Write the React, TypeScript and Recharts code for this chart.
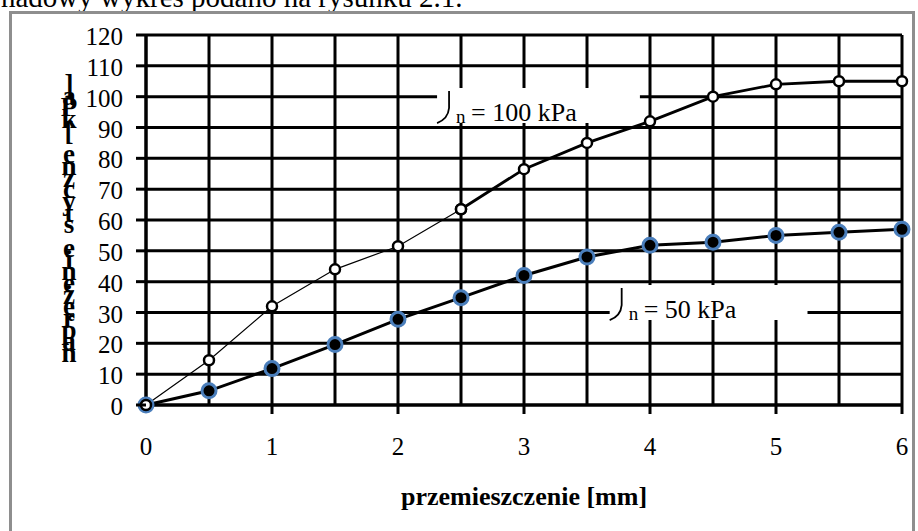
import React from 'react';
import { LineChart, Line, XAxis, YAxis, CartesianGrid, ReferenceArea } from 'recharts';

// ---- data ----
const displacement = [0, 0.5, 1, 1.5, 2, 2.5, 3, 3.5, 4, 4.5, 5, 5.5, 6];
const shear100 = [0, 14.5, 32, 44, 51.5, 63.5, 76.5, 85, 92, 100, 104, 105, 105];
const shear50 = [0, 4.6, 11.8, 19.6, 27.8, 34.8, 42, 48, 51.8, 52.8, 55, 56, 57];
const xTicks = [0, 0.5, 1, 1.5, 2, 2.5, 3, 3.5, 4, 4.5, 5, 5.5, 6];
const yTicks = [0, 10, 20, 30, 40, 50, 60, 70, 80, 90, 100, 110, 120];
const label100 = '= 100 kPa';
const label50 = '= 50 kPa';
const labelSub = 'n';
const xTitle = 'przemieszczenie [mm]';
const yTitle = 'naprężenie styczne [kPa]';
const caption = 'nadowy wykres podano na rysunku 2.1.';

const THICK_FROM = 5; // index where the 100 kPa line becomes thick

const data = displacement.map((x, i) => ({
  x,
  s50: shear50[i],
  s100a: i <= THICK_FROM ? shear100[i] : null,
  s100b: i >= THICK_FROM ? shear100[i] : null,
}));

const FONT = "'Liberation Serif', 'Times New Roman', Times, serif";

const XTick = (props: any) => {
  const { x, y, payload } = props;
  const v = payload.value;
  if (!Number.isInteger(v)) return <g />;
  return (
    <g>
      {v !== 0 && <line x1={x} x2={x} y1={y} y2={y + 9} stroke="#000" strokeWidth={3} />}
      <text x={x} y={y + 50} textAnchor="middle" fontSize={25} fontFamily={FONT} fill="#000">
        {v}
      </text>
    </g>
  );
};

const YTick = (props: any) => {
  const { x, y, payload } = props;
  return (
    <g>
      <line x1={x - 10} x2={x} y1={y} y2={y} stroke="#000" strokeWidth={3} />
      <text x={x - 23} y={y + 10} textAnchor="end" fontSize={25} fontFamily={FONT} fill="#000">
        {payload.value}
      </text>
    </g>
  );
};

const YTitle = () => {
  const chars = yTitle.split('').reverse();
  return (
    <g>
      {chars.map((c, i) => (
        <text
          key={i}
          x={69}
          y={93 + i * 11.7}
          textAnchor="middle"
          fontSize={27}
          fontWeight="bold"
          fontFamily={FONT}
          fill="#000"
        >
          {c}
        </text>
      ))}
    </g>
  );
};

const XTitle = () => (
  <text x={524} y={505} textAnchor="middle" fontSize={26} fontWeight="bold" fontFamily={FONT} fill="#000">
    {xTitle}
  </text>
);

const BoxLabel = (props: any) => {
  const { viewBox, text } = props;
  if (!viewBox) return null;
  const { x, y } = viewBox;
  return (
    <g>
      <path
        d={`M ${x + 12} ${y + 3} L ${x + 12} ${y + 20} Q ${x + 11} ${y + 31} ${x} ${y + 35}`}
        fill="none"
        stroke="#000"
        strokeWidth={1.8}
      />
      <text x={x + 19} y={y + 35} fontSize={19} fontFamily={FONT} fill="#000">
        {labelSub}
      </text>
      <text x={x + 34} y={y + 33} fontSize={26} fontFamily={FONT} fill="#000">
        {text}
      </text>
    </g>
  );
};

export default function App() {
  return (
    <div style={{ position: 'absolute', left: 0, top: 0, width: 918, height: 531, overflow: 'hidden', background: '#fff' }}>
      <svg width={918} height={20} style={{ position: 'absolute', left: 0, top: 0 }}>
        <text x={1} y={7} fontSize={29} fontFamily={FONT} fill="#000">
          {caption}
        </text>
      </svg>
      <div
        style={{
          position: 'absolute',
          left: 9,
          top: 11,
          width: 900,
          height: 600,
          border: '3px solid #8e8e8e',
        }}
      />
      <div style={{ position: 'absolute', left: 0, top: 0 }}>
        <LineChart width={918} height={531} data={data} margin={{ top: 35, right: 16, bottom: 86, left: 86 }}>
          <CartesianGrid stroke="#000" strokeWidth={3} />
          <XAxis
            dataKey="x"
            type="number"
            domain={[0, 6]}
            ticks={xTicks}
            interval={0}
            tick={<XTick />}
            tickLine={false}
            tickSize={0}
            tickMargin={0}
            axisLine={{ stroke: '#000', strokeWidth: 3 }}
            height={40}
            label={<XTitle />}
          />
          <YAxis
            type="number"
            domain={[0, 120]}
            ticks={yTicks}
            interval={0}
            tick={<YTick />}
            tickLine={false}
            tickSize={0}
            tickMargin={0}
            axisLine={{ stroke: '#000', strokeWidth: 3 }}
            width={60}
            label={<YTitle />}
          />
          <ReferenceArea
            x1={2.31}
            x2={3.92}
            y1={91.5}
            y2={102.8}
            fill="#fff"
            fillOpacity={1}
            stroke="none"
            label={<BoxLabel text={label100} />}
          />
          <ReferenceArea
            x1={3.68}
            x2={5.25}
            y1={27.6}
            y2={38.9}
            fill="#fff"
            fillOpacity={1}
            stroke="none"
            label={<BoxLabel text={label50} />}
          />
          <Line
            type="linear"
            dataKey="s50"
            stroke="#000"
            strokeWidth={3}
            dot={{ r: 7, fill: '#000', stroke: '#4A7EBB', strokeWidth: 3 }}
            isAnimationActive={false}
          />
          <Line
            type="linear"
            dataKey="s100a"
            stroke="#000"
            strokeWidth={1.2}
            dot={{ r: 5, fill: '#fff', stroke: '#000', strokeWidth: 2.5 }}
            isAnimationActive={false}
          />
          <Line
            type="linear"
            dataKey="s100b"
            stroke="#000"
            strokeWidth={2.8}
            dot={{ r: 5, fill: '#fff', stroke: '#000', strokeWidth: 2.5 }}
            isAnimationActive={false}
          />
        </LineChart>
      </div>
    </div>
  );
}
